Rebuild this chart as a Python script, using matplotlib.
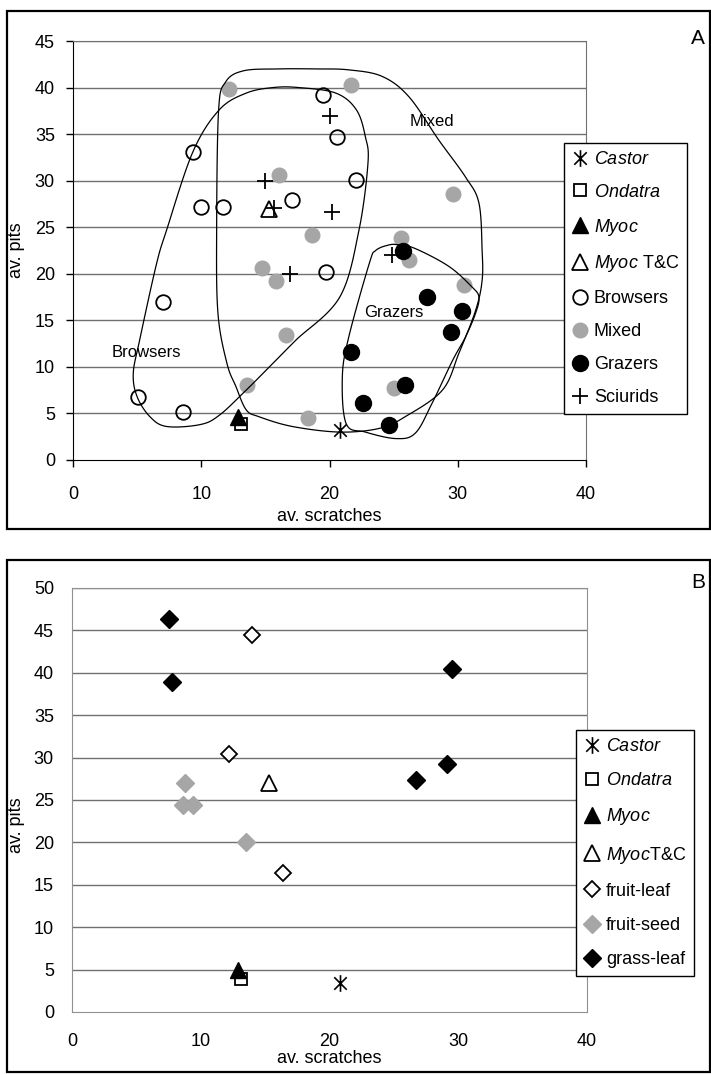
import numpy as np
import matplotlib.pyplot as plt
from matplotlib.patches import Rectangle, Polygon
from matplotlib.path import Path

plt.rcParams['font.family'] = ['Liberation Sans', 'DejaVu Sans']
plt.rcParams['mathtext.fontset'] = 'custom'
plt.rcParams['mathtext.it'] = 'Liberation Sans:italic'
plt.rcParams['mathtext.rm'] = 'Liberation Sans'

# ---- panel A data (av. scratches, av. pits) ----
castor_x, castor_y = [20.8], [3.2]
ondatra_x, ondatra_y = [13.1], [3.9]
myoc_x, myoc_y = [12.9], [4.65]
myoctc_x, myoctc_y = [15.3], [27.0]
browsers_x = [9.35, 19.5, 20.6, 22.1, 17.1, 10.0, 11.7, 19.7, 7.0, 5.1, 8.6]
browsers_y = [33.1, 39.2, 34.7, 30.1, 27.9, 27.2, 27.2, 20.2, 17.0, 6.8, 5.2]
mixed_x = [12.2, 21.7, 16.1, 29.6, 18.6, 25.6, 26.2, 14.7, 15.8, 30.5, 16.6, 13.6, 25.0, 18.3]
mixed_y = [39.8, 40.3, 30.6, 28.6, 24.2, 23.8, 21.5, 20.6, 19.2, 18.8, 13.4, 8.1, 7.7, 4.5]
grazers_x = [25.7, 27.6, 30.35, 29.45, 21.7, 25.9, 22.6, 24.65]
grazers_y = [22.4, 17.5, 16.0, 13.8, 11.6, 8.05, 6.1, 3.75]
sciurids_x = [15.0, 15.7, 20.0, 20.2, 16.9, 24.9]
sciurids_y = [30.0, 27.1, 36.9, 26.6, 20.0, 22.0]

# hand-drawn group outlines (data coords)
browsers_hull = [(17.6, 40.0), (20.5, 39.4), (22.1, 37.6), (22.8, 34.7), (23.0, 31.9),
                 (22.3, 24.7), (20.8, 17.5), (17.4, 12.9), (15.6, 10.4), (13.5, 7.5),
                 (11.4, 4.8), (9.9, 3.8), (7.3, 3.6), (6.0, 4.65), (5.0, 6.8), (4.7, 9.3),
                 (5.2, 12.9), (6.5, 21.0), (7.3, 24.7), (9.35, 33.1), (11.4, 37.6),
                 (13.5, 39.4), (15.6, 40.0)]
mixed_hull = [(19.0, 42.0), (21.5, 41.9), (24.1, 41.2), (26.2, 39.0), (28.5, 34.4),
              (30.6, 30.4), (31.65, 27.6), (31.9, 22.5), (31.9, 19.3), (31.4, 16.1),
              (30.1, 11.5), (28.8, 7.5), (25.9, 4.65), (23.9, 3.4), (20.8, 3.0),
              (17.1, 3.6), (14.5, 4.65), (13.5, 5.4), (12.7, 7.9), (12.0, 10.4),
              (11.3, 15.8), (11.2, 24.7), (11.35, 37.5), (11.9, 40.6), (13.3, 41.8),
              (16.0, 42.0)]
grazers_hull = [(25.4, 23.1), (26.7, 22.7), (29.3, 20.8), (31.1, 18.6), (31.65, 17.5),
                (31.4, 15.8), (30.6, 13.2), (29.6, 10.7), (28.0, 6.1), (26.7, 2.9),
                (25.2, 2.3), (22.8, 3.0), (21.3, 3.9), (21.0, 8.9), (21.5, 13.2),
                (23.1, 21.1), (23.6, 22.5), (24.65, 23.1)]
hull_labels = ['Mixed', 'Browsers', 'Grazers']
hull_label_x = [28.0, 5.7, 25.0]
hull_label_y = [36.4, 11.5, 15.8]

# ---- panel B data ----
b_castor_x, b_castor_y = [20.8], [3.4]
b_ondatra_x, b_ondatra_y = [13.1], [3.85]
b_myoc_x, b_myoc_y = [12.9], [4.95]
b_myoctc_x, b_myoctc_y = [15.3], [27.0]
fruitleaf_x = [14.0, 12.2, 16.4]
fruitleaf_y = [44.5, 30.4, 16.4]
fruitseed_x = [8.8, 8.6, 9.4, 13.5]
fruitseed_y = [27.0, 24.4, 24.4, 20.1]
grassleaf_x = [7.5, 7.75, 29.5, 29.1, 26.7]
grassleaf_y = [46.4, 38.95, 40.5, 29.2, 27.4]

W, H = 711, 1075
fig = plt.figure(figsize=(W / 100, H / 100), dpi=100)

# X with a vertical bar, as in the Excel "star" marker
star = Path([(0, -1), (0, 1), (-0.75, -0.75), (0.75, 0.75), (-0.75, 0.75), (0.75, -0.75)],
            [Path.MOVETO, Path.LINETO] * 3)


def closed_curve(pts, n=30):
    P = np.array(pts, dtype=float)
    N = len(P)
    t = np.linspace(0, 1, n, endpoint=False)[:, None]
    out = []
    for i in range(N):
        p0, p1, p2, p3 = P[i - 1], P[i], P[(i + 1) % N], P[(i + 2) % N]
        seg = 0.5 * ((2 * p1) + (-p0 + p2) * t + (2 * p0 - 5 * p1 + 4 * p2 - p3) * t ** 2
                     + (-p0 + 3 * p1 - 3 * p2 + p3) * t ** 3)
        out.append(seg)
    return np.vstack(out)


def frame(y0, y1):
    fig.patches.append(Rectangle((7 / W, 1 - y1 / H), (710 - 7) / W, (y1 - y0) / H,
                                 transform=fig.transFigure, fill=False, ec='black', lw=1.6))


frame(10.7, 529)
frame(560, 1072)

grid_c = '#707070'
fs = 13

# ================= panel A =================
axA = fig.add_axes([73 / W, 1 - 460 / H, (586 - 73) / W, 419 / H])
axA.set_xlim(0, 40)
axA.set_ylim(0, 45)
axA.set_xticks(range(0, 41, 10))
axA.set_yticks(range(0, 46, 5))
for y in range(5, 46, 5):
    axA.axhline(y, color=grid_c, lw=1.0, zorder=0)
for s in ['top', 'right']:
    axA.spines[s].set_color(grid_c)
for s in ['left', 'bottom']:
    axA.spines[s].set_color('black')
axA.tick_params(axis='x', direction='out', length=5, width=1, pad=14, labelsize=fs)
axA.tick_params(axis='y', direction='out', length=5, width=1, pad=8, labelsize=fs)
axA.set_xlabel('av. scratches', fontsize=fs, labelpad=3)
axA.set_ylabel('av. pits', fontsize=fs)
axA.yaxis.set_label_coords(-0.093, 0.5)

hA = []
hA.append(axA.plot(castor_x, castor_y, ls='none', marker=star, ms=12, mec='black', mew=1.2,
                   label=r'$\mathit{Castor}$')[0])
hA.append(axA.plot(ondatra_x, ondatra_y, ls='none', marker='s', ms=9, mfc='white', mec='black', mew=1.3,
                   label=r'$\mathit{Ondatra}$')[0])
hA.append(axA.plot(myoc_x, myoc_y, ls='none', marker='^', ms=11, mfc='black', mec='black',
                   label=r'$\mathit{Myoc}$')[0])
hA.append(axA.plot(myoctc_x, myoctc_y, ls='none', marker='^', ms=11, mfc='none', mec='black', mew=1.3,
                   label=r'$\mathit{Myoc}$ T&C')[0])
hA.append(axA.plot(browsers_x, browsers_y, ls='none', marker='o', ms=10.5, mfc='none', mec='black',
                   mew=1.3, label='Browsers')[0])
hA.append(axA.plot(mixed_x, mixed_y, ls='none', marker='o', ms=10.5, mfc='#a6a6a6', mec='#a6a6a6',
                   label='Mixed')[0])
hA.append(axA.plot(grazers_x, grazers_y, ls='none', marker='o', ms=11.5, mfc='black', mec='black',
                   label='Grazers')[0])
hA.append(axA.plot(sciurids_x, sciurids_y, ls='none', marker='+', ms=11, mec='black', mew=1.3,
                   label='Sciurids')[0])

for hull in [browsers_hull, mixed_hull, grazers_hull]:
    axA.add_patch(Polygon(closed_curve(hull), closed=True, fill=False, ec='black', lw=0.9,
                          zorder=5))
for t, x, y in zip(hull_labels, hull_label_x, hull_label_y):
    axA.text(x, y, t, fontsize=12, ha='center', va='center', zorder=6)

legA = fig.legend(handles=hA, loc='upper left', bbox_to_anchor=(564 / W, 1 - 142.7 / H),
                  bbox_transform=fig.transFigure, borderaxespad=0, fontsize=fs,
                  frameon=True, fancybox=False, edgecolor='black', framealpha=1,
                  handlelength=0.9, handletextpad=0.3, borderpad=0.45, labelspacing=0.88)
legA.get_frame().set_linewidth(1.0)
fig.text(698 / W, 1 - 38 / H, 'A', fontsize=15, ha='center', va='center')

# ================= panel B =================
axB = fig.add_axes([72 / W, 1 - 1012 / H, (587 - 72) / W, 424 / H])
axB.set_xlim(0, 40)
axB.set_ylim(0, 50)
axB.set_xticks(range(0, 41, 10))
axB.set_yticks(range(0, 51, 5))
for y in range(5, 51, 5):
    axB.axhline(y, color=grid_c, lw=1.0, zorder=0)
for s in axB.spines.values():
    s.set_color('#909090')
axB.tick_params(axis='x', length=0, pad=15, labelsize=fs)
axB.tick_params(axis='y', length=0, pad=13, labelsize=fs)
axB.set_xlabel('av. scratches', fontsize=fs, labelpad=0)
axB.set_ylabel('av. pits', fontsize=fs)
axB.yaxis.set_label_coords(-0.091, 0.44)

hB = []
hB.append(axB.plot(b_castor_x, b_castor_y, ls='none', marker=star, ms=12, mec='black', mew=1.2,
                   label=r'$\mathit{Castor}$')[0])
hB.append(axB.plot(b_ondatra_x, b_ondatra_y, ls='none', marker='s', ms=9, mfc='white', mec='black',
                   mew=1.3, label=r'$\mathit{Ondatra}$')[0])
hB.append(axB.plot(b_myoc_x, b_myoc_y, ls='none', marker='^', ms=11, mfc='black', mec='black',
                   label=r'$\mathit{Myoc}$')[0])
hB.append(axB.plot(b_myoctc_x, b_myoctc_y, ls='none', marker='^', ms=11, mfc='none', mec='black',
                   mew=1.3, label=r'$\mathit{Myoc}$T&C')[0])
hB.append(axB.plot(fruitleaf_x, fruitleaf_y, ls='none', marker='D', ms=8, mfc='white', mec='black',
                   mew=1.3, label='fruit-leaf')[0])
hB.append(axB.plot(fruitseed_x, fruitseed_y, ls='none', marker='D', ms=9, mfc='#a6a6a6', mec='#a6a6a6',
                   label='fruit-seed')[0])
hB.append(axB.plot(grassleaf_x, grassleaf_y, ls='none', marker='D', ms=9, mfc='black', mec='black',
                   label='grass-leaf')[0])

legB = fig.legend(handles=hB, loc='upper left', bbox_to_anchor=(576 / W, 1 - 730 / H),
                  bbox_transform=fig.transFigure, borderaxespad=0, fontsize=fs,
                  frameon=True, fancybox=False, edgecolor='black', framealpha=1,
                  handlelength=0.9, handletextpad=0.3, borderpad=0.45, labelspacing=0.95)
legB.get_frame().set_linewidth(1.0)
fig.text(698 / W, 1 - 583 / H, 'B', fontsize=15, ha='center', va='center')

fig.savefig('out.png', dpi=100)
